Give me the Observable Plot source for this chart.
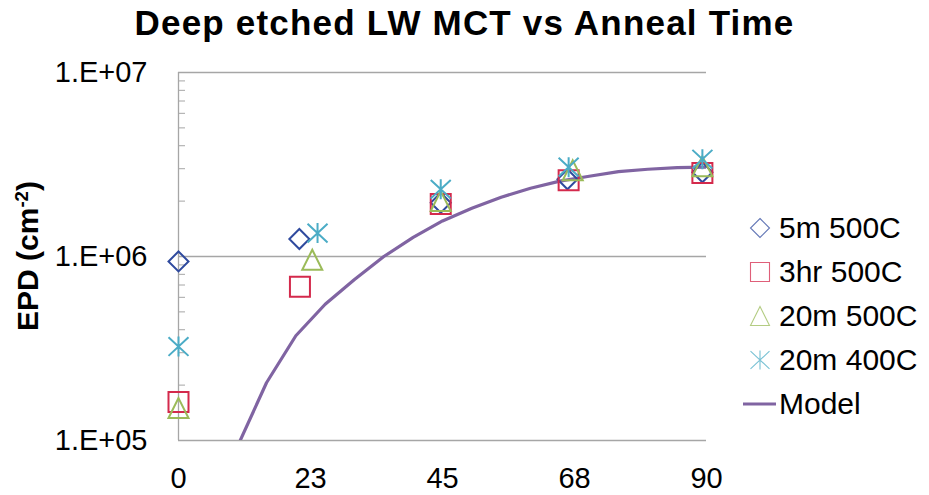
<!DOCTYPE html>
<html>
<head>
<meta charset="utf-8">
<script src="https://cdn.jsdelivr.net/npm/d3@7"></script>
<script src="https://cdn.jsdelivr.net/npm/@observablehq/plot@0.6"></script>
<style>
  body { margin: 0; background: #fff; font-family: "Liberation Sans", Arial, sans-serif; }
  #wrap { position: relative; width: 929px; height: 495px; overflow: hidden; }
  #chart { position: absolute; left: 0; top: 0; }
  #title { position: absolute; left: 0; top: 5px; width: 929px; text-align: center; font-weight: bold;
           font-size: 35px; line-height: 35px; letter-spacing: 1.2px; color: #000; white-space: nowrap; }
  #ylabel { position: absolute; left: -122px; top: 241px; width: 300px; height: 30px; text-align: center;
            font-weight: bold; font-size: 30px; line-height: 30px; transform: rotate(-90deg); white-space: nowrap; }
  #ylabel .sup { font-size: 0.62em; position: relative; top: -0.55em; }
  .lg-sym { position: absolute; width: 40px; height: 40px; }
  .lg-txt { position: absolute; font-size: 30px; line-height: 34px; white-space: nowrap; color: #000; }
</style>
</head>
<body>
<div id="wrap">
  <div id="chart"></div>
  <div id="title"></div>
  <div id="ylabel"></div>
  <div id="legend"></div>
</div>
<script>
// ---- text ----
const chartTitle = "Deep etched LW MCT vs Anneal Time";
const yTitleMain = "EPD (cm";
const yTitleSup = "-2";
const yTitleEnd = ")";

// ---- axes ----
const xTicks = [0, 22.5, 45, 67.5, 90];
const xTickLabels = ["0", "23", "45", "68", "90"];
const yTicks = [1e5, 1e6, 1e7];
const yTickLabels = ["1.E+05", "1.E+06", "1.E+07"];
const yMinorTicks = [2e5, 3e5, 4e5, 5e5, 6e5, 7e5, 8e5, 9e5, 2e6, 3e6, 4e6, 5e6, 6e6, 7e6, 8e6, 9e6];

// ---- series ----
const seriesNames = ["5m 500C", "3hr 500C", "20m 500C", "20m 400C", "Model"];
const seriesColors = ["#2F4A9E", "#D42A4C", "#9BBB59", "#4BACC6", "#8064A2"];

const time5m500 = [0, 20.6, 44.7, 66.3, 89.3];
const epd5m500 = [9.4e5, 1.245e6, 1.96e6, 2.63e6, 2.87e6];

const time3hr500 = [0, 20.7, 44.7, 66.5, 89.3];
const epd3hr500 = [1.62e5, 6.85e5, 1.93e6, 2.60e6, 2.84e6];

const time20m500 = [0, 22.8, 44.7, 67.2, 89.3];
const epd20m500 = [1.50e5, 9.6e5, 2.0e6, 2.94e6, 3.09e6];

const time20m400 = [0, 23.7, 44.7, 66.5, 89.3];
const epd20m400 = [3.24e5, 1.34e6, 2.32e6, 3.06e6, 3.38e6];

const modelTime = [10, 15, 20, 25, 30, 35, 40, 45, 50, 55, 60, 65, 70, 75, 80, 85, 90];
const modelEPD = [9.2e4, 2.06e5, 3.71e5, 5.5e5, 7.5e5, 1.0e6, 1.27e6, 1.56e6, 1.83e6, 2.10e6, 2.35e6,
                  2.57e6, 2.73e6, 2.89e6, 2.98e6, 3.04e6, 3.06e6];

// ---- symbols (Excel-like markers) ----
const half = size => Math.sqrt(size / Math.PI);
const symDiamond = { draw(c, s) { const r = half(s); c.moveTo(0, -r); c.lineTo(r, 0); c.lineTo(0, r); c.lineTo(-r, 0); c.closePath(); } };
const symSquare = { draw(c, s) { const r = half(s); c.moveTo(-r, -r); c.lineTo(r, -r); c.lineTo(r, r); c.lineTo(-r, r); c.closePath(); } };
const symTriangle = { draw(c, s) { const r = half(s); c.moveTo(0, -r); c.lineTo(r, r); c.lineTo(-r, r); c.closePath(); } };
const symAsterisk = { draw(c, s) { const r = half(s); c.moveTo(0, -r); c.lineTo(0, r); c.moveTo(-r, -r * 0.93); c.lineTo(r, r * 0.93); c.moveTo(-r, r * 0.93); c.lineTo(r, -r * 0.93); } };
const seriesSymbols = [symDiamond, symSquare, symTriangle, symAsterisk];

const toRows = (t, v) => t.map((d, i) => ({t: d, v: v[i]}));
const pointSeries = [
  toRows(time5m500, epd5m500),
  toRows(time3hr500, epd3hr500),
  toRows(time20m500, epd20m500),
  toRows(time20m400, epd20m400)
];
const modelRows = toRows(modelTime, modelEPD);

const gridColor = "#a6a6a6";

const plot = Plot.plot({
  width: 929,
  height: 495,
  marginLeft: 178,
  marginRight: 223,
  marginTop: 72,
  marginBottom: 55,
  style: { fontFamily: "'Liberation Sans', Arial, sans-serif", fontSize: "29px", color: "#000", background: "transparent" },
  x: { type: "linear", domain: [0, 90] },
  y: { type: "log", domain: [1e5, 1e7] },
  marks: [
    Plot.ruleY(yTicks.slice(1), { stroke: gridColor, strokeWidth: 1.3 }),
    Plot.ruleY(yTicks.slice(0, 1), { stroke: gridColor, strokeWidth: 1.3 }),
    Plot.ruleY(yMinorTicks, { stroke: gridColor, strokeWidth: 1, insetRight: 528 - 7 }),
    Plot.ruleX([0], { stroke: gridColor, strokeWidth: 1.3 }),
    Plot.axisX({ ticks: xTicks, tickFormat: d => xTickLabels[xTicks.indexOf(d)], tickSize: 0, tickPadding: 27, label: null, fill: "#000" }),
    Plot.axisY({ ticks: yTicks, tickFormat: d => yTickLabels[yTicks.indexOf(d)], tickSize: 0, tickPadding: 31, label: null, fill: "#000" }),
    Plot.line(modelRows, { x: "t", y: "v", stroke: seriesColors[4], strokeWidth: 3.2, clip: true }),
    ...pointSeries.map((rows, i) => Plot.dot(rows, {
      x: "t", y: "v", r: 10, symbol: seriesSymbols[i], stroke: seriesColors[i], fill: "none", strokeWidth: 2
    }))
  ]
});
document.getElementById("chart").appendChild(plot);

document.getElementById("title").textContent = chartTitle;
const yl = document.getElementById("ylabel");
yl.appendChild(document.createTextNode(yTitleMain));
const sp = document.createElement("span"); sp.className = "sup"; sp.textContent = yTitleSup; yl.appendChild(sp);
yl.appendChild(document.createTextNode(yTitleEnd));

// ---- legend ----
const legend = document.getElementById("legend");
const lgX = 740, lgTextX = 779, lgY0 = 228, lgDy = 44;
seriesNames.forEach((name, i) => {
  const cy = lgY0 + i * lgDy;
  const svg = d3.create("svg").attr("class", "lg-sym").attr("width", 40).attr("height", 40)
    .style("left", lgX + "px").style("top", (cy - 20) + "px");
  if (i < 4) {
    svg.append("path").attr("transform", "translate(20,20)")
      .attr("d", d3.symbol(seriesSymbols[i], Math.PI * 9.5 * 9.5)())
      .attr("fill", "none").attr("stroke", seriesColors[i]).attr("stroke-width", 1.1).attr("opacity", 0.75);
  } else {
    svg.append("line").attr("x1", 3).attr("x2", 36).attr("y1", 20).attr("y2", 20)
      .attr("stroke", seriesColors[i]).attr("stroke-width", 3.2);
  }
  legend.appendChild(svg.node());
  const t = document.createElement("div");
  t.className = "lg-txt";
  t.style.left = lgTextX + "px";
  t.style.top = (cy - 17) + "px";
  t.textContent = name;
  legend.appendChild(t);
});
</script>
</body>
</html>
